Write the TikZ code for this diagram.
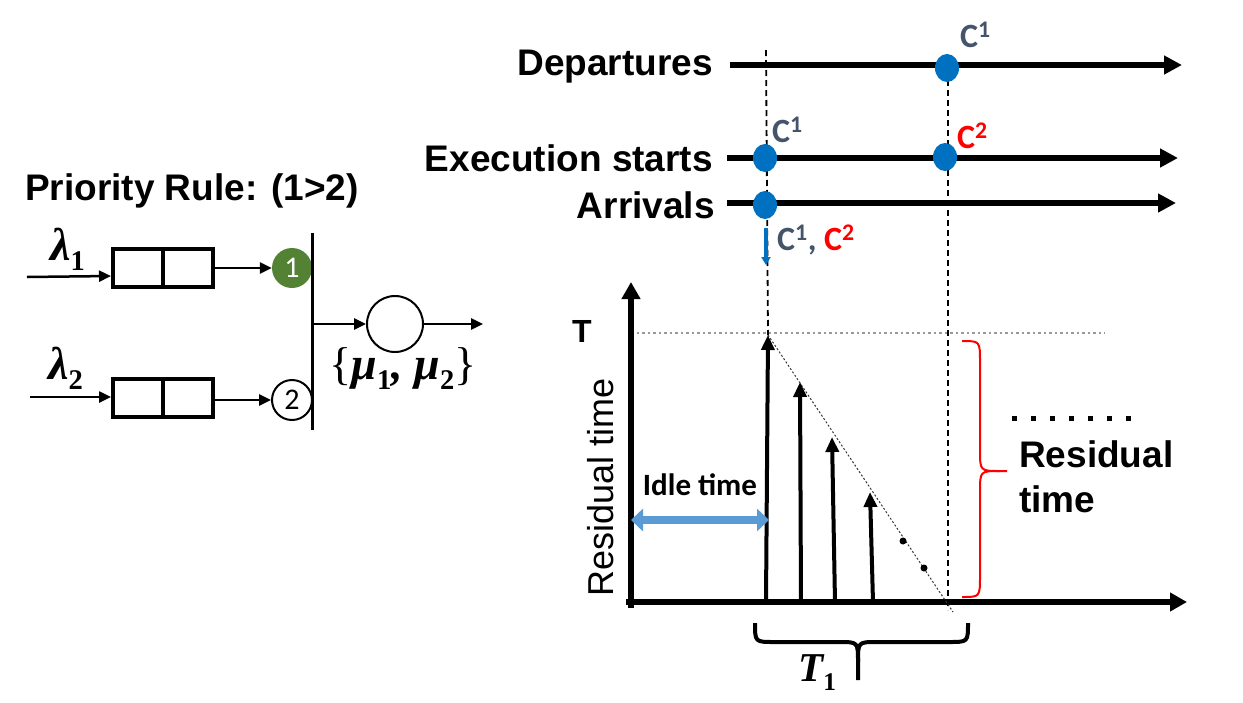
\documentclass[tikz,border=0pt]{standalone}
\usepackage[no-math]{fontspec}
\setmainfont{Liberation Sans}
\newfontfamily\calfont{Carlito}
\newfontfamily\mfont{Liberation Serif}
\usetikzlibrary{arrows.meta,shapes.geometric,calc}
\definecolor{cblue}{HTML}{0070C0}
\definecolor{lblue}{HTML}{5B9BD5}
\definecolor{cgrey}{HTML}{44546A}
\definecolor{cgreen}{HTML}{548235}
\definecolor{cred}{HTML}{FF0000}
\newcommand{\msubx}[1]{\raisebox{-0.22em}{\scalebox{0.62}{\upshape #1}}}
\begin{document}
\begin{tikzpicture}[x=1pt,y=-1pt,
  lbl/.style={font=\fontsize{37}{42}\selectfont\bfseries, inner sep=0},
  clbl/.style={font=\calfont\bfseries\fontsize{34}{38}\selectfont, inner sep=0, text=cgrey},
  tl/.style={line width=6pt, -{Triangle[length=18pt,width=18pt]}},
  bdot/.style={ellipse, fill=cblue, minimum width=24pt, minimum height=28pt, inner sep=0},
  vdash/.style={line width=1.8pt, dash pattern=on 6pt off 4pt},
  axis/.style={line width=6pt, -{Triangle[length=17pt,width=18pt]}},
  spike/.style={line width=4pt, -{Triangle[length=15pt,width=13pt]}},
  qbox/.style={draw, line width=4pt, minimum width=100pt, minimum height=38pt, inner sep=0},
  thin arrow/.style={line width=2.5pt, -{Triangle[length=12pt,width=11pt]}},
  brace/.style={line width=2pt},
  mathlbl/.style={inner sep=0, font=\mfont\bfseries\itshape\fontsize{46}{50}\selectfont}
]
\useasboundingbox (0,0) rectangle (1243,702);

% ---------------- left: priority queue ----------------
\node[lbl, anchor=base west] (rule) at (25,200) {Priority Rule: (1>2)};
\node[mathlbl, anchor=base west] (lam1) at (50,260) {λ\msubx{1}};
\node[mathlbl, anchor=base west] (lam2) at (48,379) {λ\msubx{2}};

\node[qbox] (q1) at (163,268) {};
\node[qbox] (q2) at (163,398) {};
\draw[line width=4pt] (q1.north) -- (q1.south);
\draw[line width=4pt] (q2.north) -- (q2.south);

\coordinate (in1) at (27,277);
\coordinate (in2) at (30,397);
\draw[thin arrow] (in1) -- (q1.west |- 0,276);
\draw[thin arrow] (in2) -- (q2.west |- in2);

\node[circle, fill=cgreen, minimum size=40pt, inner sep=0, text=white,
      font=\calfont\fontsize{30}{34}\selectfont] (c1) at (292,268) {1};
\node[circle, draw, fill=white, line width=2pt, minimum size=40pt, inner sep=0,
      font=\calfont\fontsize{30}{34}\selectfont] (c2) at (292,400) {2};
\draw[thin arrow] (q1.east) -- (c1.west);
\draw[thin arrow] (q2.east |- c2) -- (c2.west);

\coordinate (barT) at (312,233);
\coordinate (barB) at (312,430);
\draw[line width=3pt] (barT) -- (barB);
\coordinate (barM) at (312,324);
\node[circle, draw, line width=2pt, minimum size=56pt, inner sep=0] (srv) at (395,324) {};
\draw[thin arrow] (barM) -- (srv.west);
\coordinate (out) at (483,324);
\draw[thin arrow] (srv.east) -- (out);
\node[mathlbl, anchor=base] (mu) at (403,379) {{\upshape\mdseries\{}μ\msubx{1}, μ\msubx{2}{\upshape\mdseries\}}};

% ---------------- timelines ----------------
\node[lbl, anchor=base east] (tD) at (713,75) {Departures};
\node[lbl, anchor=base east] (tE) at (713,171) {Execution starts};
\node[lbl, anchor=base east] (tA) at (715,218) {Arrivals};

\coordinate (dS) at (730,65);  \coordinate (dE) at (1182,65);
\coordinate (eS) at (727,158); \coordinate (eE) at (1178,158);
\coordinate (aS) at (727,203); \coordinate (aE) at (1176,203);
\draw[tl] (dS) -- (dE);
\draw[tl] (eS) -- (eE);
\draw[tl] (aS) -- (aE);

% dashed verticals
\coordinate (v1T) at (766,50);
\coordinate (v2T) at (948,80);
\coordinate (v2B) at (948,610);

% chart coordinates
\coordinate (yB) at (631,608);
\coordinate (yT) at (631,282);
\coordinate (xL) at (626,602);
\coordinate (xR) at (1187,602);
\coordinate (a1b) at (766,602); \coordinate (a1t) at (768,335);
\coordinate (a2b) at (801,602); \coordinate (a2t) at (800,382);
\coordinate (a3b) at (835,602); \coordinate (a3t) at (832,437);
\coordinate (a4b) at (873,602); \coordinate (a4t) at (870,492);

\draw[vdash] (v1T) -- (a1t);
\draw[vdash] (v2T) -- (v2B);

\node[bdot] (dD) at (947,68) {};
\node[bdot] (dE1) at (765,158) {};
\node[bdot] (dE2) at (945,157) {};
\node[bdot] (dA) at (765,205) {};

\node[clbl, anchor=base west] (lD) at (960,47) {C\textsuperscript{1}};
\node[clbl, anchor=base west] (lE1) at (772,142) {C\textsuperscript{1}};
\node[clbl, anchor=base west, text=cred] (lE2) at (957,148) {C\textsuperscript{2}};
\node[clbl, anchor=base west] (lA) at (777,250) {C\textsuperscript{1}, \textcolor{cred}{C\textsuperscript{2}}};

\coordinate (bT) at (766,228);
\coordinate (bB) at (766,265);
\draw[cblue, line width=3.5pt, -{Triangle[length=8pt,width=9pt]}] (bT) -- (bB);

% ---------------- chart ----------------
\coordinate (tL) at (631,333);
\coordinate (tR) at (1105,333);
\draw[gray!80, line width=2.5pt, dash pattern=on 2.5pt off 3pt] (tL) -- (tR);

\draw[axis] (yB) -- (yT);
\draw[axis] (xL) -- (xR);

\coordinate (diagE) at (953,612);
\draw[line width=1pt, black!80, dash pattern=on 2pt off 2pt] (a1t) -- (diagE);

\draw[spike] (a1b) -- (a1t);
\draw[spike] (a2b) -- (a2t);
\draw[spike] (a3b) -- (a3t);
\draw[spike] (a4b) -- (a4t);

\fill (903,541) circle (3.5pt);
\fill (924,568) circle (3.5pt);

\node[font=\fontsize{32}{36}\selectfont\bfseries, anchor=base, inner sep=0] (T) at (582,342) {T};
\node[font=\fontsize{36}{40}\selectfont, rotate=90, anchor=base, inner sep=0] (ylab) at (613,487) {Residual time};

\coordinate (iL) at (631,520);
\coordinate (iR) at (769,520);
\draw[lblue, line width=8pt, {Triangle[length=12pt,width=22pt]}-{Triangle[length=12pt,width=22pt]}] (iL) -- (iR);
\node[font=\calfont\bfseries\fontsize{31}{34}\selectfont, anchor=base, inner sep=0] (idle) at (700,495) {Idle time};

% red brace
\coordinate (rbT) at (962,341);
\coordinate (rbB) at (962,597);
\coordinate (rbTip) at (1007,471);
\draw[cred, brace] (rbT) .. controls (980,341) .. (980,362) -- (980,450) .. controls (980,471) .. (1000,471) -- (rbTip);
\draw[cred, brace] (rbB) .. controls (980,597) .. (980,576) -- (980,492) .. controls (980,471) .. (1000,471);

\foreach \i in {0,...,6} \fill (1012+19*\i,416) rectangle ++(5,5);

\node[lbl, anchor=base west] (res1) at (1019,467) {Residual};
\node[lbl, anchor=base west] (res2) at (1019,512) {time};

% bottom brace
\coordinate (bbL) at (755,623);
\coordinate (bbR) at (968,623);
\coordinate (bbTip) at (858,680);
\draw[line width=4pt] (bbL) .. controls (755,642) .. (774,642) -- (839,642) .. controls (858,642) .. (858,662) -- (bbTip);
\draw[line width=4pt] (bbR) .. controls (968,642) .. (949,642) -- (877,642) .. controls (858,642) .. (858,662);
\node[mathlbl, anchor=base west, font=\mfont\bfseries\itshape\fontsize{41}{45}\selectfont] (T1) at (798,681) {T\msubx{1}};
\end{tikzpicture}
\end{document}
